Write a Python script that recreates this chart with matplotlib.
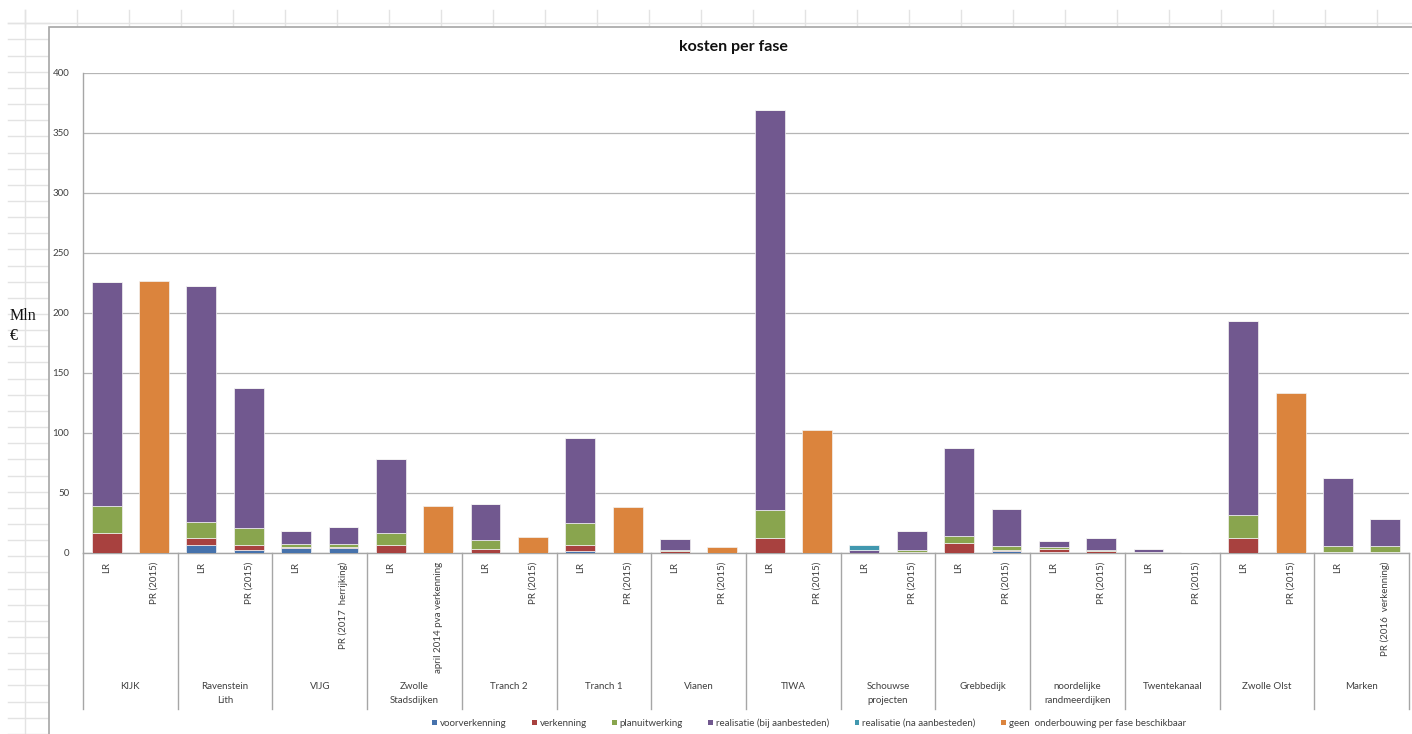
import matplotlib
matplotlib.use("Agg")
import matplotlib.pyplot as plt
from matplotlib.patches import Rectangle, Patch
import numpy as np

# ---------------- data ----------------
groups = ["KIJK", "Ravenstein\nLith", "VIJG", "Zwolle\nStadsdijken", "Tranch 2", "Tranch 1",
          "Vianen", "TIWA", "Schouwse\nprojecten", "Grebbedijk", "noordelijke\nrandmeerdijken",
          "Twentekanaal", "Zwolle Olst", "Marken"]
sublabels = ["LR", "PR (2015)", "LR", "PR (2015)", "LR", "PR (2017  herrijking)",
             "LR", "april 2014 pva verkenning", "LR", "PR (2015)", "LR", "PR (2015)",
             "LR", "PR (2015)", "LR", "PR (2015)", "LR", "PR (2015)", "LR", "PR (2015)",
             "LR", "PR (2015)", "LR", "PR (2015)", "LR", "PR (2015)", "LR", "PR (2016  verkenning)"]

series_names = ["voorverkenning", "verkenning", "planuitwerking", "realisatie (bij aanbesteden)",
                "realisatie (na aanbesteden)", "geen  onderbouwing per fase beschikbaar"]

voorverkenning = [0, 0, 6.9, 2.2, 3.9, 3.9, 0, 0, 0, 0, 1.4, 0, 0, 0,
                  0, 0, 0, 0, 0, 1.4, 1.0, 0, 0, 0, 0, 0, 1.0, 1.0]
verkenning = [16.3, 0, 5.6, 4.7, 1.1, 1.1, 6.9, 0, 3.6, 0, 5.5, 0, 1.4, 0,
              12.5, 0, 0, 1.0, 8.3, 0.8, 2.1, 1.4, 0, 0, 12.2, 0, 0, 0]
planuitwerking = [23.0, 0, 13.3, 13.9, 2.7, 2.7, 9.4, 0, 7.4, 0, 18.1, 0, 1.4, 0,
                  23.5, 0, 0, 1.2, 6.1, 3.3, 1.6, 1.1, 1.0, 0, 19.3, 0, 5.1, 5.1]
realisatie_bij = [186.3, 0, 196.9, 117.1, 10.6, 13.9, 61.8, 0, 30.0, 0, 71.0, 0, 8.8, 0,
                  333.0, 0, 2.8, 15.8, 73.1, 31.5, 5.5, 9.7, 2.5, 1.0, 162.2, 0, 56.6, 22.4]
realisatie_na = [0, 0, 0, 0, 0, 0, 0, 0, 0, 0, 0, 0, 0, 0,
                 0, 0, 4.1, 0, 0, 0, 0, 0, 0, 0, 0, 0, 0, 0]
geen_onderbouwing = [0, 226.4, 0, 0, 0, 0, 0, 39.0, 0, 13.3, 0, 38.0, 0, 5.0,
                     0, 102.5, 0, 0, 0, 0, 0, 0, 0, 0, 0, 133.5, 0, 0]

yticks = [0, 50, 100, 150, 200, 250, 300, 350, 400]

colors = ["#4672AC", "#A8413F", "#89A54E", "#71588F", "#4198AF", "#DB843D"]

# ---------------- figure ----------------
W, H = 1412, 734
fig = plt.figure(figsize=(W / 100, H / 100), dpi=100)
plt.rcParams['font.family'] = ['Lato', 'DejaVu Sans']

# spreadsheet background
bg = fig.add_axes([0, 0, 1, 1], zorder=0)
bg.set_xlim(0, W)
bg.set_ylim(H, 0)
bg.axis("off")
gridc = "#E3E3E3"
ys = np.arange(23.3, H, 16.15)
for y in ys:
    bg.plot([8, 49], [y, y], color=gridc, lw=1)
bg.plot([8, W], [23.3, 23.3], color=gridc, lw=1)
for x in np.arange(25, W, 52):
    bg.plot([x, x], [10, 27], color=gridc, lw=1)
bg.plot([25, 25], [10, H], color=gridc, lw=1)
bg.add_patch(Rectangle((49, 27), W, H, facecolor="white", edgecolor="#A6A6A6", lw=1.2, zorder=3))
bg.text(10, 316, "Mln", family="Liberation Serif", fontsize=11.5, va="center", ha="left", color="#111111")
bg.text(10, 336, "€", family="Liberation Serif", fontsize=11.5, va="center", ha="left", color="#111111")
bg.text(733, 47, "kosten per fase", fontsize=11.5, fontweight="bold", ha="center", va="center",
        color="#111111", zorder=4)

# main chart
left, right, top, bottom = 83, 1409, 73, 553
ax = fig.add_axes([left / W, 1 - bottom / H, (right - left) / W, (bottom - top) / H], zorder=2)
ax.set_facecolor("none")

n = len(sublabels)
x = np.arange(n)
data = [voorverkenning, verkenning, planuitwerking, realisatie_bij, realisatie_na, geen_onderbouwing]
base = np.zeros(n)
for vals, c, name in zip(data, colors, series_names):
    v = np.array(vals, dtype=float)
    ax.bar(x, v, bottom=base, width=0.63, color=c, edgecolor="#F2F2F2", linewidth=0.5,
           label=name, zorder=3)
    base += v

ax.set_xlim(-0.5, n - 0.5)
ax.set_ylim(0, 400)
ax.set_yticks(yticks)
ax.set_yticklabels([str(t) for t in yticks], fontsize=7, color="#404040")
ax.tick_params(axis="y", length=0, pad=10)
ax.set_xticks([])
ax.yaxis.grid(True, color="#B5B5B5", lw=0.9, zorder=0)
for s in ["top", "right"]:
    ax.spines[s].set_visible(False)
ax.spines["left"].set_color("#A6A6A6")
ax.spines["bottom"].set_color("#A6A6A6")
ax.spines["left"].set_linewidth(1.0)
ax.spines["bottom"].set_linewidth(1.0)

trans = ax.get_xaxis_transform()
ax_h = bottom - top
sep_bottom = -(709 - bottom) / ax_h
for g in range(len(groups) + 1):
    xb = 2 * g - 0.5
    ax.plot([xb, xb], [0, sep_bottom], transform=trans, color="#A6A6A6", lw=1.0, clip_on=False)
for i, lab in enumerate(sublabels):
    ax.text(i, -(562 - bottom) / ax_h, lab, transform=trans, rotation=90, ha="center", va="top",
            fontsize=7, color="#404040")
for g, lab in enumerate(groups):
    ax.text(2 * g + 0.5, -(682 - bottom) / ax_h, lab, transform=trans, ha="center", va="top",
            fontsize=7, color="#404040", linespacing=1.7, multialignment="center")

handles = [Patch(facecolor=c, edgecolor="none") for c in colors]
fig.legend(handles, series_names, loc="center", bbox_to_anchor=(809 / W, 1 - 723 / H), ncol=6,
           frameon=False, fontsize=7, handlelength=0.5, handleheight=0.5, handletextpad=0.3,
           columnspacing=2.6, labelcolor="#404040")

fig.savefig("out.png", dpi=100)
